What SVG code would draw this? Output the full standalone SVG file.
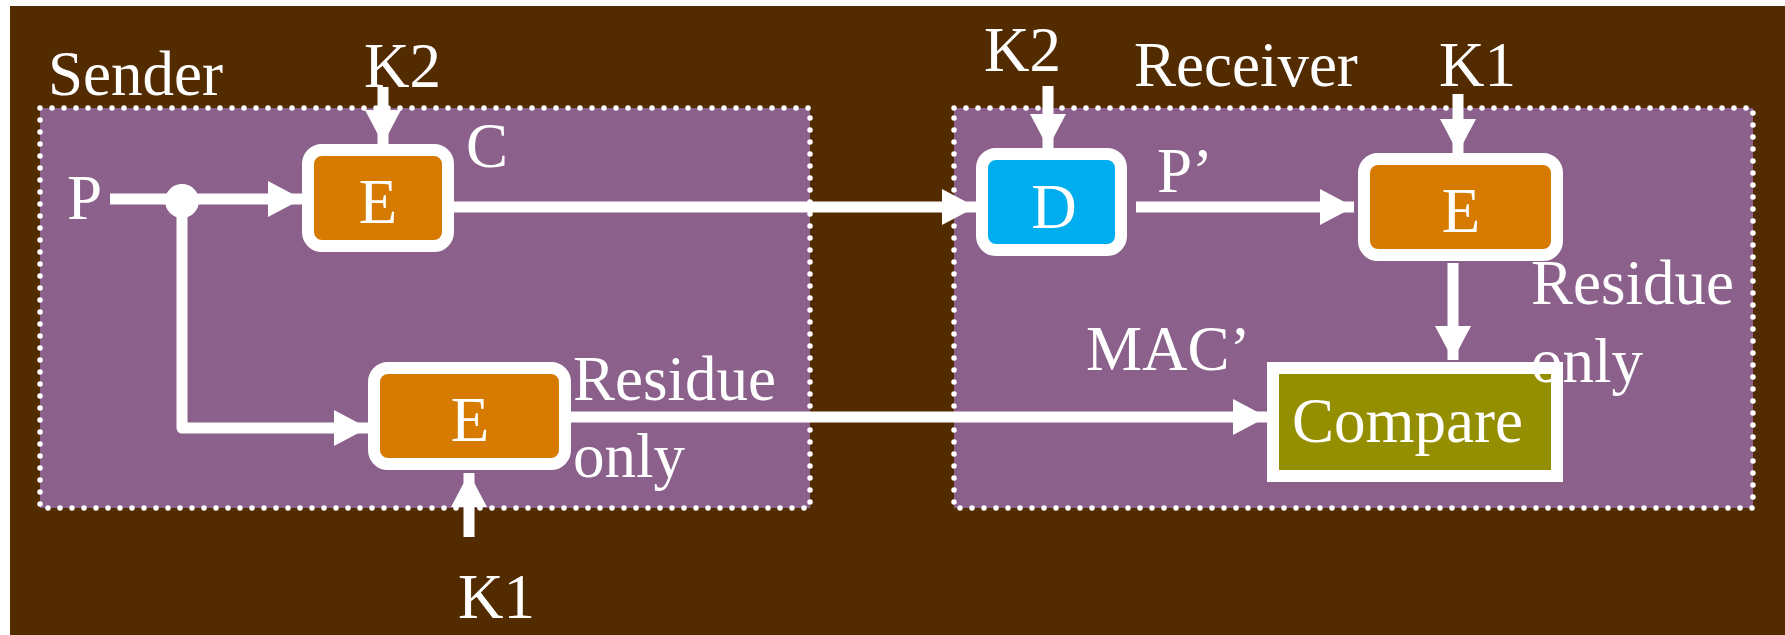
<svg xmlns="http://www.w3.org/2000/svg" width="1785" height="635" viewBox="0 0 1785 635">
  <defs>
    <marker id="arrow" markerUnits="userSpaceOnUse" markerWidth="36" markerHeight="36" refX="34" refY="18" orient="auto">
      <path d="M0,0 L34,18 L0,36 Z" fill="#ffffff"/>
    </marker>
    <style>
      .zone { fill: #8b618b; stroke: #ffffff; stroke-width: 5.5; stroke-linecap: round; stroke-dasharray: 0 12; }
      .box { stroke: #ffffff; stroke-width: 12; }
      .enc { fill: #d67a00; }
      .dec { fill: #00aeef; }
      .cmp { fill: #948f00; }
      .wire { fill: none; stroke: #ffffff; stroke-width: 11; stroke-linejoin: round; marker-end: url(#arrow); }
      text { font-family: "Liberation Serif", "Times New Roman", serif; font-size: 63px; fill: #ffffff; }
      .mid { text-anchor: middle; }
    </style>
  </defs>

  <!-- page background -->
  <rect x="0" y="0" width="1785" height="635" fill="#ffffff"/>
  <rect x="10" y="6" width="1775" height="629" fill="#522b00"/>

  <!-- sender and receiver zones -->
  <g id="sender">
    <rect class="zone" x="40" y="108" width="770" height="400"/>
    <text x="48" y="95">Sender</text>
  </g>
  <g id="receiver">
    <rect class="zone" x="954" y="108" width="799" height="400"/>
    <text x="1134" y="86">Receiver</text>
  </g>

  <!-- connectors -->
  <g id="connectors">
    <path class="wire" d="M110,199 L302,199"/>
    <circle cx="182" cy="201" r="17" fill="#ffffff"/>
    <path class="wire" d="M182,201 L182,428 L368,428"/>
    <path class="wire" d="M454,207 L976,207"/>
    <path class="wire" d="M1136,207 L1354,207"/>
    <path class="wire" d="M570,417 L1267,417"/>
    <path class="wire" d="M383,87 L383,144"/>
    <path class="wire" d="M469,537 L469,473"/>
    <path class="wire" d="M1048,86 L1048,148"/>
    <path class="wire" d="M1458,94 L1458,153"/>
    <path class="wire" d="M1453,263 L1453,360"/>
  </g>

  <!-- sender nodes -->
  <g id="enc-c">
    <rect class="box enc" x="308" y="150" width="140" height="96" rx="14"/>
    <text class="mid" x="378" y="223">E</text>
  </g>
  <g id="enc-mac">
    <rect class="box enc" x="374" y="368" width="191" height="96" rx="14"/>
    <text class="mid" x="470" y="441">E</text>
  </g>

  <!-- receiver nodes -->
  <g id="dec">
    <rect class="box dec" x="982" y="154" width="139" height="96" rx="14"/>
    <text class="mid" x="1054" y="228">D</text>
  </g>
  <g id="enc-check">
    <rect class="box enc" x="1364" y="159" width="193" height="96" rx="14"/>
    <text class="mid" x="1461" y="232">E</text>
  </g>
  <g id="compare">
    <rect class="box cmp" x="1273" y="368" width="284" height="108"/>
    <text x="1292" y="442">Compare</text>
  </g>

  <!-- labels -->
  <g id="labels">
    <text x="67" y="219">P</text>
    <text x="466" y="167">C</text>
    <text x="364" y="87">K2</text>
    <text x="573" y="400">Residue</text>
    <text x="573" y="477">only</text>
    <text x="458" y="618">K1</text>
    <text x="984" y="71">K2</text>
    <text x="1439" y="86">K1</text>
    <text x="1157" y="192">P’</text>
    <text x="1531" y="304">Residue</text>
    <text x="1531" y="382">only</text>
    <text x="1086" y="370">MAC’</text>
  </g>
</svg>
